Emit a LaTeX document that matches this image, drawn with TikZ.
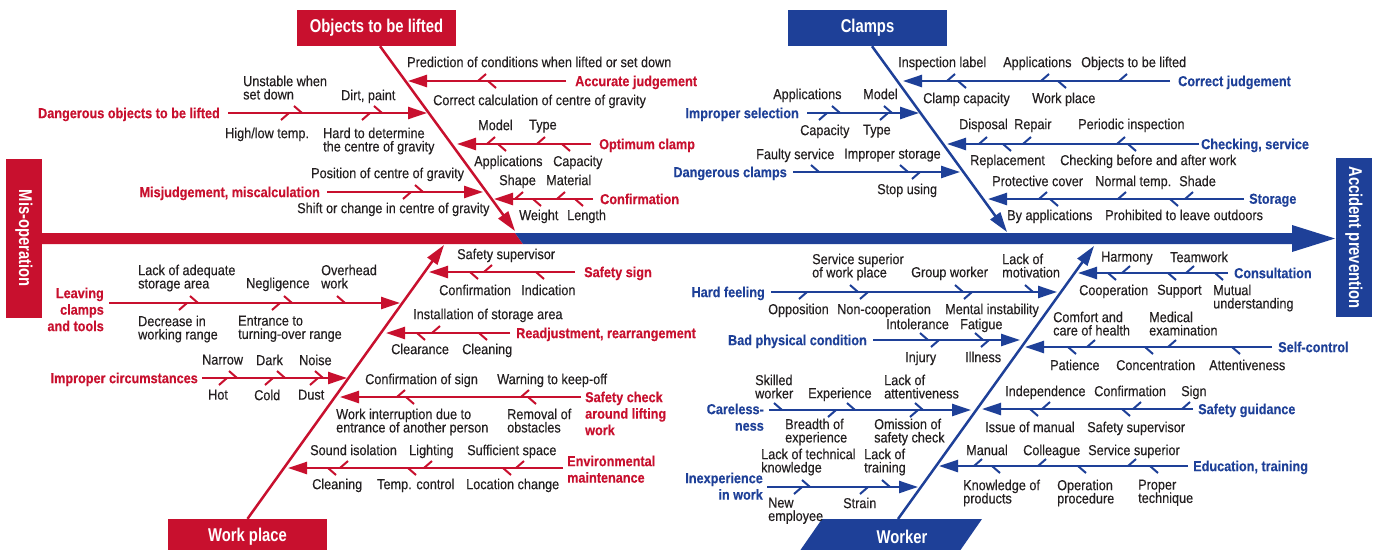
\documentclass[tikz,border=0pt]{standalone}
\usepackage{fontspec}
\setmainfont{Liberation Sans}[FakeStretch=0.88, FakeBold=0.3]
\newfontfamily\ttlfont{Liberation Sans}[FakeStretch=0.8]
\usetikzlibrary{arrows.meta}
\definecolor{rd}{RGB}{200,16,46}
\definecolor{bl}{RGB}{30,64,152}
\definecolor{txt}{RGB}{35,31,32}
\newcommand\rfont{\fontsize{14.4}{13.3}\selectfont\lineskiplimit=-20pt\relax}
\newcommand\bfont{\fontsize{14.4}{16.5}\selectfont\bfseries\lineskiplimit=-20pt\relax}
\newcommand\tfont{\ttlfont\fontsize{18.5}{22}\selectfont\bfseries}
\tikzset{
  tx/.style={anchor=north west, inner sep=0pt, align=left, font=\rfont, text=txt},
  lb/.style={anchor=north west, inner sep=0pt, align=left, font=\bfont},
  lbr/.style={anchor=north east, inner sep=0pt, align=right, font=\bfont},
  tbox/.style={inner sep=0pt, text=white, font=\tfont},
  brs/.style={line width=2.4pt, -{Triangle[length=19pt,width=12pt]}},
  bone/.style={line width=2.5pt, -{Triangle[length=20pt,width=12pt]}},
  tk/.style={line width=2pt}
}
\newcommand\br[4]{\coordinate (#1s) at (#3,#2); \coordinate (#1t) at (#4,#2); \draw[brs] (#1s) -- (#1t);}
\newcommand\tur[2]{\draw[tk] (#1,#2) -- ++(-8,-7);}
\newcommand\tlr[2]{\draw[tk] (#1,#2) -- ++(-8,7);}
\newcommand\tul[2]{\draw[tk] (#1,#2) -- ++(8,-7);}
\newcommand\tll[2]{\draw[tk] (#1,#2) -- ++(8,7);}
\begin{document}
\begin{tikzpicture}[x=1pt,y=-1pt]
\useasboundingbox (0,0) rectangle (1376,549);
\fill[white] (0,0) rectangle (1376,549);
% spine
\fill[rd] (42,233) -- (515,233) -- (523,244) -- (42,244) -- cycle;
\fill[bl] (515,233) -- (1292,233) -- (1292,225) -- (1335,238.5) -- (1292,252) -- (1292,244) -- (523,244) -- cycle;
\node[tbox, fill=rd, rotate=-90, minimum width=159pt, minimum height=36pt] (mis) at (24,238.5) {Mis-operation};
\node[tbox, fill=bl, rotate=-90, minimum width=159pt, minimum height=36pt] (acc) at (1354,237.5) {Accident prevention};

% ===== top-left: Objects to be lifted =====
\begin{scope}[color=rd]
\node[tbox, fill=rd, minimum width=159pt, minimum height=36pt] (objb) at (376.5,28) {Objects to be lifted};
\coordinate (objtip) at (515,231);
\draw[bone] ([xshift=3.5pt]objb.south) -- (objtip);
% Accurate judgement
\br{aj}{81}{566}{408}
\node[lb] (ajL) at (575,75.5) {Accurate judgement};
\tul{478}{81} \tll{488}{81}
\node[tx] (aj1) at (407,56.5) {Prediction of conditions when lifted or set down};
\node[tx] (aj2) at (433,94.5) {Correct calculation of centre of gravity};
% Dangerous objects
\br{do}{113}{228}{427}
\node[lbr] (doL) at (220,107.5) {Dangerous objects to be lifted};
\tur{302}{113} \tur{382}{113} \tlr{289}{113} \tlr{370}{113}
\node[tx] (do1) at (243,75.5) {Unstable when\\set down};
\node[tx] (do2) at (341,89.5) {Dirt, paint};
\node[tx] (do3) at (225,127.5) {High/low temp.};
\node[tx] (do4) at (323,127.5) {Hard to determine\\the centre of gravity};
% Optimum clamp
\br{oc}{144}{591}{457}
\node[lb] (ocL) at (599,138.5) {Optimum clamp};
\tul{487}{144} \tul{537}{144} \tll{498}{144} \tll{562}{144}
\node[tx] (oc1) at (478,119.5) {Model};
\node[tx] (oc2) at (529,119.5) {Type};
\node[tx] (oc3) at (474,155.5) {Applications};
\node[tx] (oc4) at (553,155.5) {Capacity};
% Confirmation
\br{cf}{199}{593}{494}
\node[lb] (cfL) at (600,193.5) {Confirmation};
\tul{515}{199} \tul{557}{199} \tll{533}{199} \tll{575}{199}
\node[tx] (cf1) at (499,174.5) {Shape};
\node[tx] (cf2) at (546,174.5) {Material};
\node[tx] (cf3) at (519,209.5) {Weight};
\node[tx] (cf4) at (567,209.5) {Length};
% Misjudgement
\br{mm}{192}{327}{483}
\node[lbr] (mmL) at (320,186.5) {Misjudgement, miscalculation};
\tur{423}{192} \tlr{411}{192}
\node[tx] (mm1) at (311,167.5) {Position of centre of gravity};
\node[tx] (mm2) at (297,202.5) {Shift or change in centre of gravity};
\end{scope}

% ===== top-right: Clamps =====
\begin{scope}[color=bl]
\node[tbox, fill=bl, minimum width=159pt, minimum height=36pt] (clb) at (867.5,28) {Clamps};
\coordinate (cltip) at (1007,232);
\draw[bone] ([xshift=4.5pt]clb.south) -- (cltip);
% Correct judgement
\br{cj}{81}{1170}{903}
\node[lb] (cjL) at (1178,75.5) {Correct judgement};
\tul{947}{81} \tul{1041}{81} \tul{1119}{81} \tll{958}{81} \tll{1058}{81}
\node[tx] (cj1) at (898,56.5) {Inspection label};
\node[tx] (cj2) at (1003,56.5) {Applications};
\node[tx] (cj3) at (1081,56.5) {Objects to be lifted};
\node[tx] (cj4) at (923,92.5) {Clamp capacity};
\node[tx] (cj5) at (1032,92.5) {Work place};
% Improper selection
\br{is}{113}{807}{919}
\node[lbr] (isL) at (799,107.5) {Improper selection};
\tur{840}{113} \tur{892}{113} \tlr{827}{113} \tlr{888}{113}
\node[tx] (is1) at (773,88.5) {Applications};
\node[tx] (is2) at (863,88.5) {Model};
\node[tx] (is3) at (800,124.5) {Capacity};
\node[tx] (is4) at (863,124.5) {Type};
% Checking, service
\br{cs}{144}{1199}{947}
\node[lb] (csL) at (1201,138.5) {Checking, service};
\tul{979}{144} \tul{1023}{144} \tul{1117}{144} \tll{1003}{144} \tll{1128}{144}
\node[tx] (cs1) at (959,118.5) {Disposal};
\node[tx] (cs2) at (1014,118.5) {Repair};
\node[tx] (cs3) at (1078,118.5) {Periodic inspection};
\node[tx] (cs4) at (970,154.5) {Replacement};
\node[tx] (cs5) at (1060,154.5) {Checking before and after work};
% Dangerous clamps
\br{dc}{172}{793}{960}
\node[lbr] (dcL) at (787,166.5) {Dangerous clamps};
\tur{819}{172} \tur{908}{172} \tlr{920}{172}
\node[tx] (dc1) at (756,148.5) {Faulty service};
\node[tx] (dc2) at (844,148.5) {Improper storage};
\node[tx] (dc3) at (877,183.5) {Stop using};
% Storage
\br{st}{199}{1244}{988}
\node[lb] (stL) at (1249,193.5) {Storage};
\tul{1039}{199} \tul{1118}{199} \tul{1185}{199} \tll{1050}{199} \tll{1170}{199}
\node[tx] (st1) at (992,175.5) {Protective cover};
\node[tx] (st2) at (1095,175.5) {Normal temp.};
\node[tx] (st3) at (1179,175.5) {Shade};
\node[tx] (st4) at (1007,209.5) {By applications};
\node[tx] (st5) at (1105,209.5) {Prohibited to leave outdoors};
\end{scope}

% ===== bottom-left: Work place =====
\begin{scope}[color=rd]
\node[tbox, fill=rd, minimum width=159pt, minimum height=36pt] (wpb) at (247.5,537) {Work place};
\coordinate (wptip) at (444,245);
\draw[bone] (wpb.north) -- (wptip);
% Safety sign
\br{ss}{272}{575}{429}
\node[lb] (ssL) at (584,266.5) {Safety sign};
\tul{484}{272} \tll{470}{272} \tll{536}{272}
\node[tx] (ss1) at (457,248.5) {Safety supervisor};
\node[tx] (ss2) at (439,284.5) {Confirmation};
\node[tx] (ss3) at (521,284.5) {Indication};
% Leaving clamps
\br{lc}{303}{109}{400}
\node[lbr] (lcL) at (104,287.5) {Leaving\\clamps\\and tools};
\tur{198}{303} \tur{292}{303} \tur{345}{303} \tlr{187}{303} \tlr{280}{303}
\node[tx] (lc1) at (138,264.5) {Lack of adequate\\storage area};
\node[tx] (lc2) at (246,277.5) {Negligence};
\node[tx] (lc3) at (321,264.5) {Overhead\\work};
\node[tx] (lc4) at (138,315.5) {Decrease in\\working range};
\node[tx] (lc5) at (238,315.5) {Entrance to\\turning-over range};
% Readjustment
\br{rr}{333}{510}{386}
\node[lb] (rrL) at (516,327.5) {Readjustment, rearrangement};
\tul{432}{333} \tll{417}{333} \tll{479}{333}
\node[tx] (rr1) at (413,308.5) {Installation of storage area};
\node[tx] (rr2) at (391,343.5) {Clearance};
\node[tx] (rr3) at (462,343.5) {Cleaning};
% Improper circumstances
\br{ic}{378}{202}{347}
\node[lbr] (icL) at (198,372.5) {Improper circumstances};
\tur{237}{378} \tur{285}{378} \tur{323}{378} \tlr{227}{378} \tlr{273}{378} \tlr{318}{378}
\node[tx] (ic1) at (202,354.5) {Narrow};
\node[tx] (ic2) at (256,354.5) {Dark};
\node[tx] (ic3) at (299,354.5) {Noise};
\node[tx] (ic4) at (208,389.5) {Hot};
\node[tx] (ic5) at (254,389.5) {Cold};
\node[tx] (ic6) at (298,389.5) {Dust};
% Safety check
\br{sc}{397}{581}{340}
\node[lb] (scL) at (585,391.5) {Safety check\\around lifting\\work};
\tul{397}{397} \tul{521}{397} \tll{406}{397} \tll{528}{397}
\node[tx] (sc1) at (365,373.5) {Confirmation of sign};
\node[tx] (sc2) at (497,373.5) {Warning to keep-off};
\node[tx] (sc3) at (336,408.5) {Work interruption due to\\entrance of another person};
\node[tx] (sc4) at (507,408.5) {Removal of\\obstacles};
% Environmental maintenance
\br{em}{468}{563}{288}
\node[lb] (emL) at (567,455.5) {Environmental\\maintenance};
\tul{340}{468} \tul{424}{468} \tul{516}{468} \tll{328}{468} \tll{408}{468} \tll{503}{468}
\node[tx] (em1) at (310,444.5) {Sound isolation};
\node[tx] (em2) at (409,444.5) {Lighting};
\node[tx] (em3) at (467,444.5) {Sufficient space};
\node[tx] (em4) at (312,478.5) {Cleaning};
\node[tx] (em5) at (377,478.5) {Temp. control};
\node[tx] (em6) at (466,478.5) {Location change};
\end{scope}

% ===== bottom-right: Worker =====
\begin{scope}[color=bl]
\fill[bl] (822,519) -- (982,519) -- (957,555) -- (797,555) -- cycle;
\node[tbox] (wkb) at (902,537) {Worker};
\coordinate (wkroot) at (898,519);
\coordinate (wktip) at (1094,246);
\draw[bone] (wkroot) -- (wktip);
% Consultation
\br{co}{273}{1228}{1078}
\node[lb] (coL) at (1234,267.5) {Consultation};
\tul{1122}{273} \tul{1186}{273} \tll{1108}{273} \tll{1168}{273} \tll{1215}{273}
\node[tx] (co1) at (1101,251.5) {Harmony};
\node[tx] (co2) at (1170,251.5) {Teamwork};
\node[tx] (co3) at (1079,284.5) {Cooperation};
\node[tx] (co4) at (1157,284.5) {Support};
\node[tx] (co5) at (1213,284.5) {Mutual\\understanding};
% Hard feeling
\br{hf}{292}{771}{1057}
\node[lbr] (hfL) at (765,286.5) {Hard feeling};
\tur{858}{292} \tur{963}{292} \tur{1033}{292} \tlr{807}{292} \tlr{868}{292} \tlr{972}{292}
\node[tx] (hf1) at (812,253.5) {Service superior\\of work place};
\node[tx] (hf2) at (911,266.5) {Group worker};
\node[tx] (hf3) at (1002,253.5) {Lack of\\motivation};
\node[tx] (hf4) at (768,303.5) {Opposition};
\node[tx] (hf5) at (837,303.5) {Non-cooperation};
\node[tx] (hf6) at (945,303.5) {Mental instability};
% Bad physical condition
\br{bp}{340}{873}{1020}
\node[lbr] (bpL) at (867,334.5) {Bad physical condition};
\tur{928}{340} \tur{983}{340} \tlr{939}{340} \tlr{989}{340}
\node[tx] (bp1) at (886,318.5) {Intolerance};
\node[tx] (bp2) at (960,318.5) {Fatigue};
\node[tx] (bp3) at (905,351.5) {Injury};
\node[tx] (bp4) at (965,351.5) {Illness};
% Self-control
\br{sf}{347}{1272}{1025}
\node[lb] (sfL) at (1278,341.5) {Self-control};
\tul{1087}{347} \tul{1168}{347} \tll{1068}{347} \tll{1145}{347} \tll{1232}{347}
\node[tx] (sf1) at (1053,311.5) {Comfort and\\care of health};
\node[tx] (sf2) at (1149,311.5) {Medical\\examination};
\node[tx] (sf3) at (1050,359.5) {Patience};
\node[tx] (sf4) at (1116,359.5) {Concentration};
\node[tx] (sf5) at (1209,359.5) {Attentiveness};
% Carelessness
\br{cl}{410}{769}{971}
\node[lbr] (clL) at (764,403.5) {Careless-\\ness};
\tur{782}{410} \tur{855}{410} \tur{923}{410} \tlr{836}{410} \tlr{918}{410}
\node[tx] (cl1) at (755,374.5) {Skilled\\worker};
\node[tx] (cl2) at (808,387.5) {Experience};
\node[tx] (cl3) at (884,374.5) {Lack of\\attentiveness};
\node[tx] (cl4) at (785,418.5) {Breadth of\\experience};
\node[tx] (cl5) at (874,418.5) {Omission of\\safety check};
% Safety guidance
\br{sg}{409}{1193}{982}
\node[lb] (sgL) at (1198,403.5) {Safety guidance};
\tul{1042}{409} \tul{1133}{409} \tul{1182}{409} \tll{1030}{409} \tll{1122}{409}
\node[tx] (sg1) at (1005,385.5) {Independence};
\node[tx] (sg2) at (1094,385.5) {Confirmation};
\node[tx] (sg3) at (1181,385.5) {Sign};
\node[tx] (sg4) at (985,421.5) {Issue of manual};
\node[tx] (sg5) at (1087,421.5) {Safety supervisor};
% Inexperience in work
\br{iw}{487}{767}{918}
\node[lbr] (iwL) at (763,472.5) {Inexperience\\in work};
\tur{810}{487} \tur{890}{487} \tlr{802}{487} \tlr{868}{487}
\node[tx] (iw1) at (761,448.5) {Lack of technical\\knowledge};
\node[tx] (iw2) at (864,448.5) {Lack of\\training};
\node[tx] (iw3) at (768,497.5) {New\\employee};
\node[tx] (iw4) at (843,497.5) {Strain};
% Education, training
\br{et}{466}{1188}{939}
\node[lb] (etL) at (1193,460.5) {Education, training};
\tul{974}{466} \tul{1038}{466} \tul{1128}{466} \tll{992}{466} \tll{1078}{466} \tll{1150}{466}
\node[tx] (et1) at (966,444.5) {Manual};
\node[tx] (et2) at (1023,444.5) {Colleague};
\node[tx] (et3) at (1088,444.5) {Service superior};
\node[tx] (et4) at (963,479.5) {Knowledge of\\products};
\node[tx] (et5) at (1057,479.5) {Operation\\procedure};
\node[tx] (et6) at (1138,479.5) {Proper\\technique};
\end{scope}
\end{tikzpicture}
\end{document}
